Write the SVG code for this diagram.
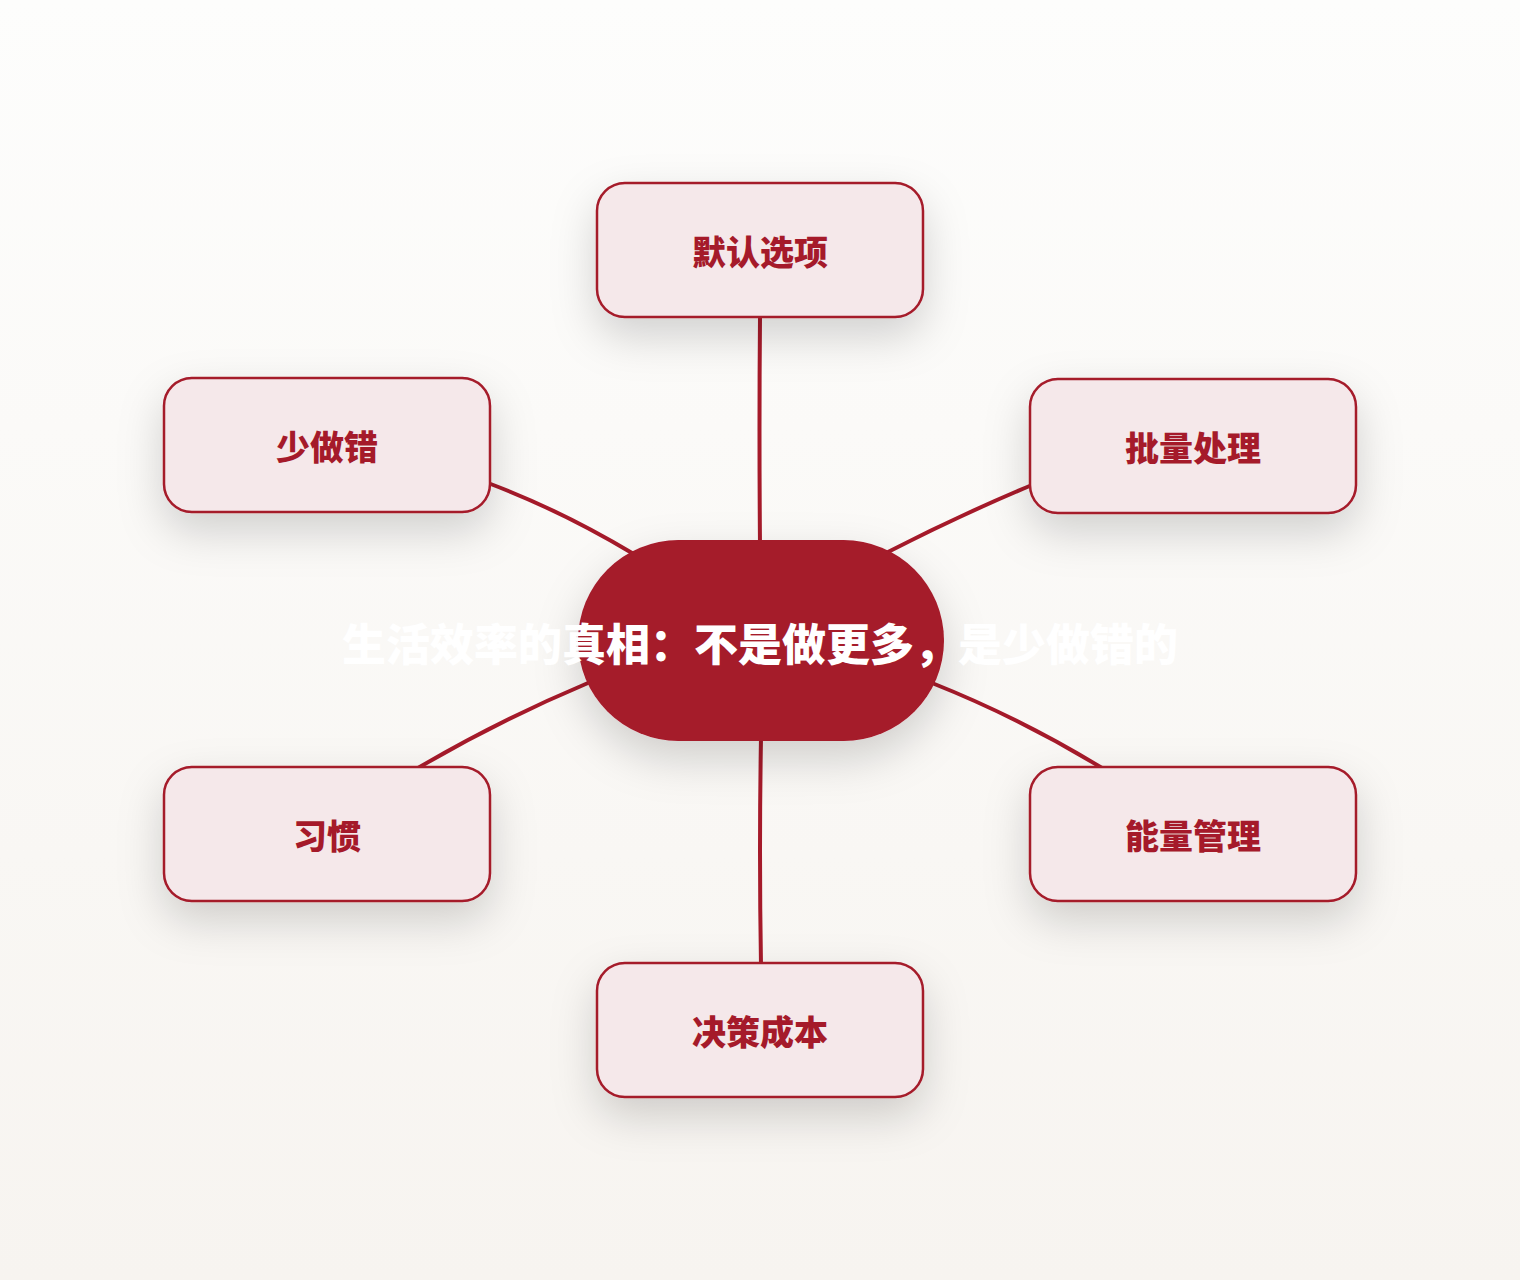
<svg xmlns="http://www.w3.org/2000/svg" width="1520" height="1280" viewBox="0 0 1520 1280">
<defs>
<linearGradient id="bg" x1="0" y1="0" x2="0" y2="1">
<stop offset="0" stop-color="#FDFDFC"/>
<stop offset="1" stop-color="#F7F4F0"/>
</linearGradient>
<filter id="sh" x="-40%" y="-50%" width="180%" height="220%">
<feDropShadow dx="0" dy="18" stdDeviation="22" flood-color="#000" flood-opacity="0.17"/>
</filter>
</defs>
<style>
.edge{fill:none;stroke:#A51A2A;stroke-width:4;stroke-linecap:round}
.node rect{fill:#F5E8EA;stroke:#A51A2A;stroke-width:2.5}
.node text{font-family:"Noto Sans CJK SC","Noto Sans",sans-serif;font-weight:900;font-size:34px;fill:#A51A2A;text-anchor:middle;dominant-baseline:central}
.hub text{font-family:"Noto Sans CJK SC","Noto Sans",sans-serif;font-weight:900;font-size:44px;fill:#FFFFFF;text-anchor:middle;dominant-baseline:central}
</style>
<rect width="1520" height="1280" fill="url(#bg)"/>
<g id="connectors">
<path class="edge" d="M760,317 Q759,430 760,545"/>
<path class="edge" d="M488,483 Q560,510 632,553"/>
<path class="edge" d="M1032,485 Q960,515 886,553"/>
<path class="edge" d="M418,768 Q500,720 588,683"/>
<path class="edge" d="M1102,768 Q1020,718 932,683"/>
<path class="edge" d="M761,738 Q759,850 761,965"/>
</g>
<g id="hub" class="hub">
<rect x="578" y="540" width="366" height="201" rx="100.5" fill="#A51A2A" filter="url(#sh)"/>
<text x="760" y="642">生活效率的真相：不是做更多，是少做错的</text>
</g>
<g id="n-default" class="node">
<rect x="597" y="183" width="326" height="134" rx="28" filter="url(#sh)"/>
<text x="760" y="250">默认选项</text>
</g>
<g id="n-less-errors" class="node">
<rect x="164" y="378" width="326" height="134" rx="28" filter="url(#sh)"/>
<text x="327" y="445">少做错</text>
</g>
<g id="n-batch" class="node">
<rect x="1030" y="379" width="326" height="134" rx="28" filter="url(#sh)"/>
<text x="1193" y="446">批量处理</text>
</g>
<g id="n-habit" class="node">
<rect x="164" y="767" width="326" height="134" rx="28" filter="url(#sh)"/>
<text x="327" y="834">习惯</text>
</g>
<g id="n-energy" class="node">
<rect x="1030" y="767" width="326" height="134" rx="28" filter="url(#sh)"/>
<text x="1193" y="834">能量管理</text>
</g>
<g id="n-decision" class="node">
<rect x="597" y="963" width="326" height="134" rx="28" filter="url(#sh)"/>
<text x="760" y="1030">决策成本</text>
</g>
</svg>
